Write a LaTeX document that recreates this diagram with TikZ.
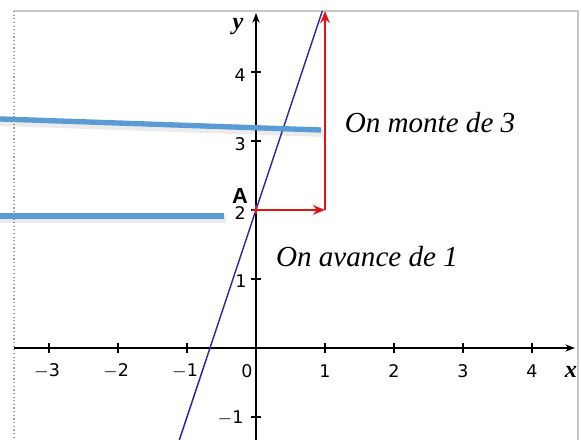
\documentclass[tikz,border=0pt]{standalone}
\usepackage{fontspec}
\setmainfont{Liberation Serif}
\newfontfamily\ticksfont{DejaVu Sans}
\newfontfamily\labelsans{Liberation Sans}
\usetikzlibrary{arrows.meta}
\definecolor{framegray}{RGB}{200,200,200}
\definecolor{graphblue}{RGB}{40,40,165}
\definecolor{arrowred}{RGB}{225,20,20}
\definecolor{steel}{RGB}{91,155,213}
\tikzset{
  axis/.style={line width=0.6pt,-{Stealth[length=4pt,width=3pt]}},
  tickmark/.style={line width=0.6pt},
  ticklabel/.style={font=\ticksfont\fontsize{7.2}{8}\selectfont,inner sep=0pt},
  axislabel/.style={font=\bfseries\itshape\fontsize{10}{12}\selectfont,inner sep=0pt},
  comment/.style={font=\itshape\fontsize{12}{14}\selectfont,inner sep=0pt},
  redarrow/.style={arrowred,line width=0.7pt,-{Stealth[length=5pt,width=4pt]}},
  callout/.style={steel,line width=2.2pt},
  calloutshadow/.style={black,opacity=0.08,line width=3.4pt},
}
\begin{document}
\begin{tikzpicture}[x=1cm,y=1cm]
\useasboundingbox (-3.710,-1.333) rectangle (4.710,5.043);
% frame
\draw[framegray,line width=0.5pt] (-3.507,4.884) -- (4.667,4.884) -- (4.667,-1.333);
\draw[framegray!80!black,line width=0.5pt,densely dotted] (-3.507,4.884) -- (-3.507,-1.333);
% axes
\coordinate (xl) at (-3.507,0);
\coordinate (xr) at (4.623,0);
\coordinate (yb) at (0,-1.333);
\coordinate (yt) at (0,4.855);
\draw[axis] (xl) -- (xr);
\draw[axis] (yb) -- (yt);
% ticks
\foreach \i in {-3,-2,-1,1,2,3,4}{
  \draw[tickmark] (\i,-0.07) -- (\i,0.07);
}
\foreach \i in {-1,1,2,3,4}{
  \draw[tickmark] (-0.07,\i) -- (0.07,\i);
}
\node[ticklabel] (xm3) at (-3.03,-0.333) {$-$3};
\node[ticklabel] (xm2) at (-2.03,-0.333) {$-$2};
\node[ticklabel] (xm1) at (-1.03,-0.333) {$-$1};
\node[ticklabel] (x0) at (-0.13,-0.333) {0};
\node[ticklabel] (x1) at (1,-0.333) {1};
\node[ticklabel] (x2) at (2,-0.333) {2};
\node[ticklabel] (x3) at (3,-0.333) {3};
\node[ticklabel] (x4) at (4,-0.333) {4};
\node[ticklabel] (ym1) at (-0.37,-1.02) {$-$1};
\node[ticklabel] (y1) at (-0.22,0.97) {1};
\node[ticklabel] (y2) at (-0.23,1.96) {2};
\node[ticklabel] (y3) at (-0.23,2.95) {3};
\node[ticklabel] (y4) at (-0.23,3.95) {4};
\node[axislabel] (xlab) at (4.565,-0.348) {x};
\node[axislabel] (ylab) at (-0.261,4.652) {y};
% graph line y = 3x + 2
\coordinate (gb) at (-1.111,-1.333);
\coordinate (gt) at (0.961,4.884);
\draw[graphblue,line width=0.6pt] (gb) -- (gt);
% point A and steps
\coordinate (A) at (0,2);
\coordinate (B) at (1,2);
\coordinate (C) at (1,4.884);
\draw[redarrow] (A) -- (B);
\draw[redarrow] (B) -- (C);
\draw[arrowred,line width=1pt] (-0.065,2) -- (0.065,2) (0,1.935) -- (0,2.065);
\node[font=\labelsans\bfseries\fontsize{9}{10}\selectfont,inner sep=0pt] (Alab) at (-0.232,2.203) {A};
% comments
\node[comment] (monte) at (2.522,3.261) {On monte de 3};
\node[comment] (avance) at (1.609,1.319) {On avance de 1};
% callout lines
\coordinate (c1a) at (-3.710,3.319);
\coordinate (c1b) at (0.942,3.159);
\coordinate (c2a) at (-3.710,1.913);
\coordinate (c2b) at (-0.464,1.913);
\draw[calloutshadow] ([yshift=-1.2pt]c1a) -- ([yshift=-1.2pt,xshift=0.8pt]c1b);
\draw[calloutshadow] ([yshift=-1.2pt]c2a) -- ([yshift=-1.2pt,xshift=0.8pt]c2b);
\draw[callout] (c1a) -- (c1b);
\draw[callout] (c2a) -- (c2b);
\end{tikzpicture}
\end{document}
